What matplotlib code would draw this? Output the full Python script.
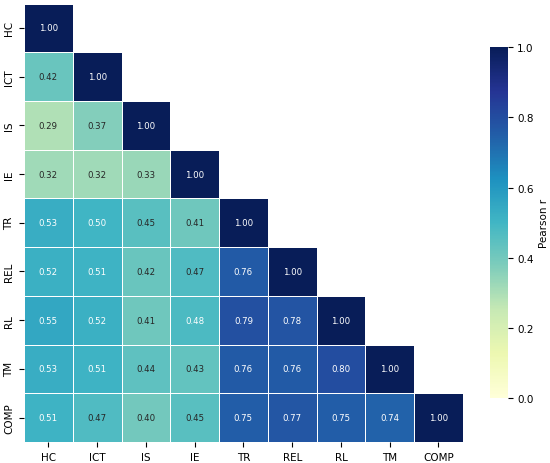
import numpy as np
import matplotlib
matplotlib.use("Agg")
import matplotlib.pyplot as plt
import seaborn as sns

# Variable names (rows / columns)
labels = ["HC", "ICT", "IS", "IE", "TR", "REL", "RL", "TM", "COMP"]

# Lower triangle of the correlation matrix, row by row
row_hc = [1.00]
row_ict = [0.42, 1.00]
row_is = [0.29, 0.37, 1.00]
row_ie = [0.32, 0.32, 0.33, 1.00]
row_tr = [0.53, 0.50, 0.45, 0.41, 1.00]
row_rel = [0.52, 0.51, 0.42, 0.47, 0.76, 1.00]
row_rl = [0.55, 0.52, 0.41, 0.48, 0.79, 0.78, 1.00]
row_tm = [0.53, 0.51, 0.44, 0.43, 0.76, 0.76, 0.80, 1.00]
row_comp = [0.51, 0.47, 0.40, 0.45, 0.75, 0.77, 0.75, 0.74, 1.00]

rows = [row_hc, row_ict, row_is, row_ie, row_tr, row_rel, row_rl, row_tm, row_comp]
cbar_ticks = [0.0, 0.2, 0.4, 0.6, 0.8, 1.0]

# Build a full symmetric matrix from the lower triangle
n = len(labels)
corr = np.zeros((n, n))
for i, r in enumerate(rows):
    for j, v in enumerate(r):
        corr[i, j] = v
        corr[j, i] = v

# Hide the upper triangle
mask = np.triu(np.ones_like(corr, dtype=bool), k=1)

fig = plt.figure(figsize=(5.5, 4.64), dpi=100)
ax = fig.add_axes([0.0436, 0.0453, 0.798, 0.945])
cax = fig.add_axes([0.891, 0.140, 0.0318, 0.756])

sns.heatmap(
    corr,
    mask=mask,
    cmap="YlGnBu",
    vmin=0,
    vmax=1,
    annot=True,
    fmt=".2f",
    annot_kws={"size": 6.2},
    linewidths=0.6,
    linecolor="white",
    xticklabels=labels,
    yticklabels=labels,
    ax=ax,
    cbar_ax=cax,
)

ax.tick_params(axis="both", labelsize=7.5)
plt.setp(ax.get_yticklabels(), rotation=90, va="center")
plt.setp(ax.get_xticklabels(), rotation=0)

cax.tick_params(labelsize=7.5)
cax.set_ylabel("Pearson r", fontsize=7.5)
cax.set_yticks(cbar_ticks)
cax.set_yticklabels([f"{t:.1f}" for t in cbar_ticks])
for spine in cax.spines.values():
    spine.set_visible(False)

fig.savefig("out.png", dpi=100)
